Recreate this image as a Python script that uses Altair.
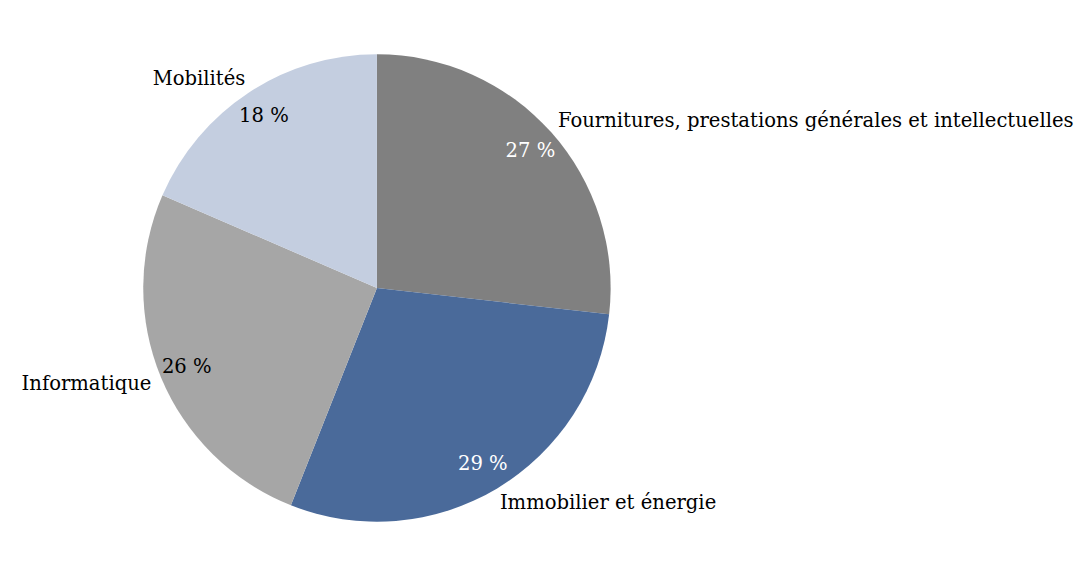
import altair as alt
import pandas as pd

categories = ["Fournitures, prestations générales et intellectuelles",
              "Immobilier et énergie", "Informatique", "Mobilités"]
shares = [26.8, 29.2, 25.5, 18.5]
pct_labels = ["27 %", "29 %", "26 %", "18 %"]
colors = ["#808080", "#4A6A9A", "#A6A6A6", "#C4CEE0"]

df = pd.DataFrame({"cat": categories, "share": shares, "pct": pct_labels,
                   "order": list(range(len(categories)))})

FONT = "DejaVu Serif"
FS = 19.7
R = 235

base = alt.Chart(df).encode(
    theta=alt.Theta("share:Q", stack=True),
    order=alt.Order("order:Q"),
)

arcs = base.mark_arc(outerRadius=R, strokeWidth=0).encode(
    color=alt.Color("cat:N", scale=alt.Scale(domain=categories, range=colors), legend=None)
)

pct = base.mark_text(radius=207, font=FONT, fontSize=FS, baseline="middle", align="center").encode(
    text="pct:N",
    color=alt.condition(
        alt.FieldOneOfPredicate(field="cat", oneOf=categories[:2]),
        alt.value("white"), alt.value("black")),
)

right_side = base.transform_calculate(
    lab="datum.order < 2 ? datum.cat : ''"
).mark_text(radius=252, dx=-6, font=FONT, fontSize=FS, align="left", baseline="middle", color="black").encode(
    text="lab:N"
)
left_side = base.transform_calculate(
    lab="datum.order >= 2 ? datum.cat : ''"
).mark_text(radius=252, dx=6, font=FONT, fontSize=FS, align="right", baseline="middle", color="black").encode(
    text="lab:N"
)

chart = alt.layer(arcs, pct, right_side, left_side).properties(
    width=742, height=560,
    autosize=alt.AutoSizeParams(type="none"),
    padding={"left": 0, "top": 0, "right": 336, "bottom": 0},
).configure_view(stroke=None)

chart.save("out.html", embed_options={"renderer": "svg", "actions": False})
